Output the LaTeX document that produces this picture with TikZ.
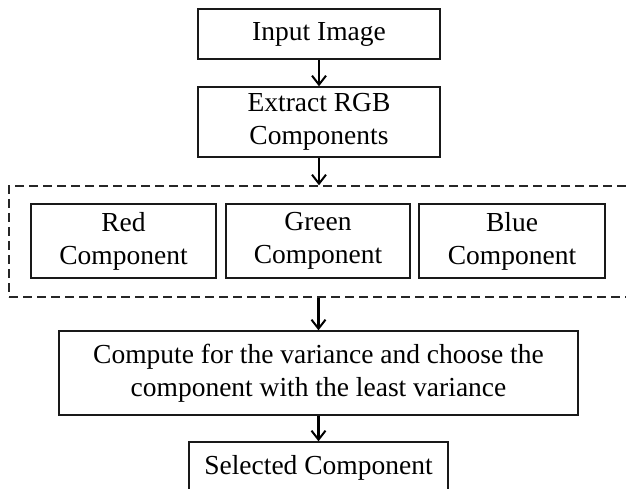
\documentclass[tikz,border=0pt]{standalone}
\usepackage{fontspec}
\setmainfont{Liberation Serif}
\usetikzlibrary{arrows.meta}
\begin{document}
\begin{tikzpicture}[x=1pt,y=-1pt,
  box/.style={draw=black!90, line width=1.4pt, align=center, inner sep=0pt,
    font=\fontsize{27.5}{33}\selectfont},
  flow/.style={line width=2.2pt, -{Straight Barb[length=9pt,width=14pt,line width=2pt]}},
  grp/.style={draw=black!85, line width=1.4pt, dash pattern=on 9pt off 5pt}]
\useasboundingbox (0,0) rectangle (626,489);
\clip (0,0) rectangle (626,489);
\node[box, minimum width=242, minimum height=50] (inp) at (319,34) {Input Image};
\node[box, minimum width=242, minimum height=70] (ext) at (319,122) {Extract RGB\\Components};
\node[grp, minimum width=631, minimum height=111] (group) at (324.5,241.5) {};
\node[box, minimum width=185, minimum height=74] (red) at (123.5,241) {Red\\Component};
\node[box, minimum width=184, minimum height=74] (green) at (318,241) {Green\\Component};
\node[box, minimum width=186, minimum height=74] (blue) at (512,241) {Blue\\Component};
\node[box, minimum width=519, minimum height=84] (comp) at (318.5,373) {Compute for the variance and choose the\\component with the least variance};
\node[box, minimum width=259, minimum height=52] (sel) at (318.5,468) {Selected Component};
\draw[flow] (inp.south) -- (ext.north);
\draw[flow] (ext.south) -- (ext.south |- group.north);
\draw[flow] (comp.north |- group.south) -- (comp.north);
\draw[flow] (comp.south) -- (sel.north);
\end{tikzpicture}
\end{document}
